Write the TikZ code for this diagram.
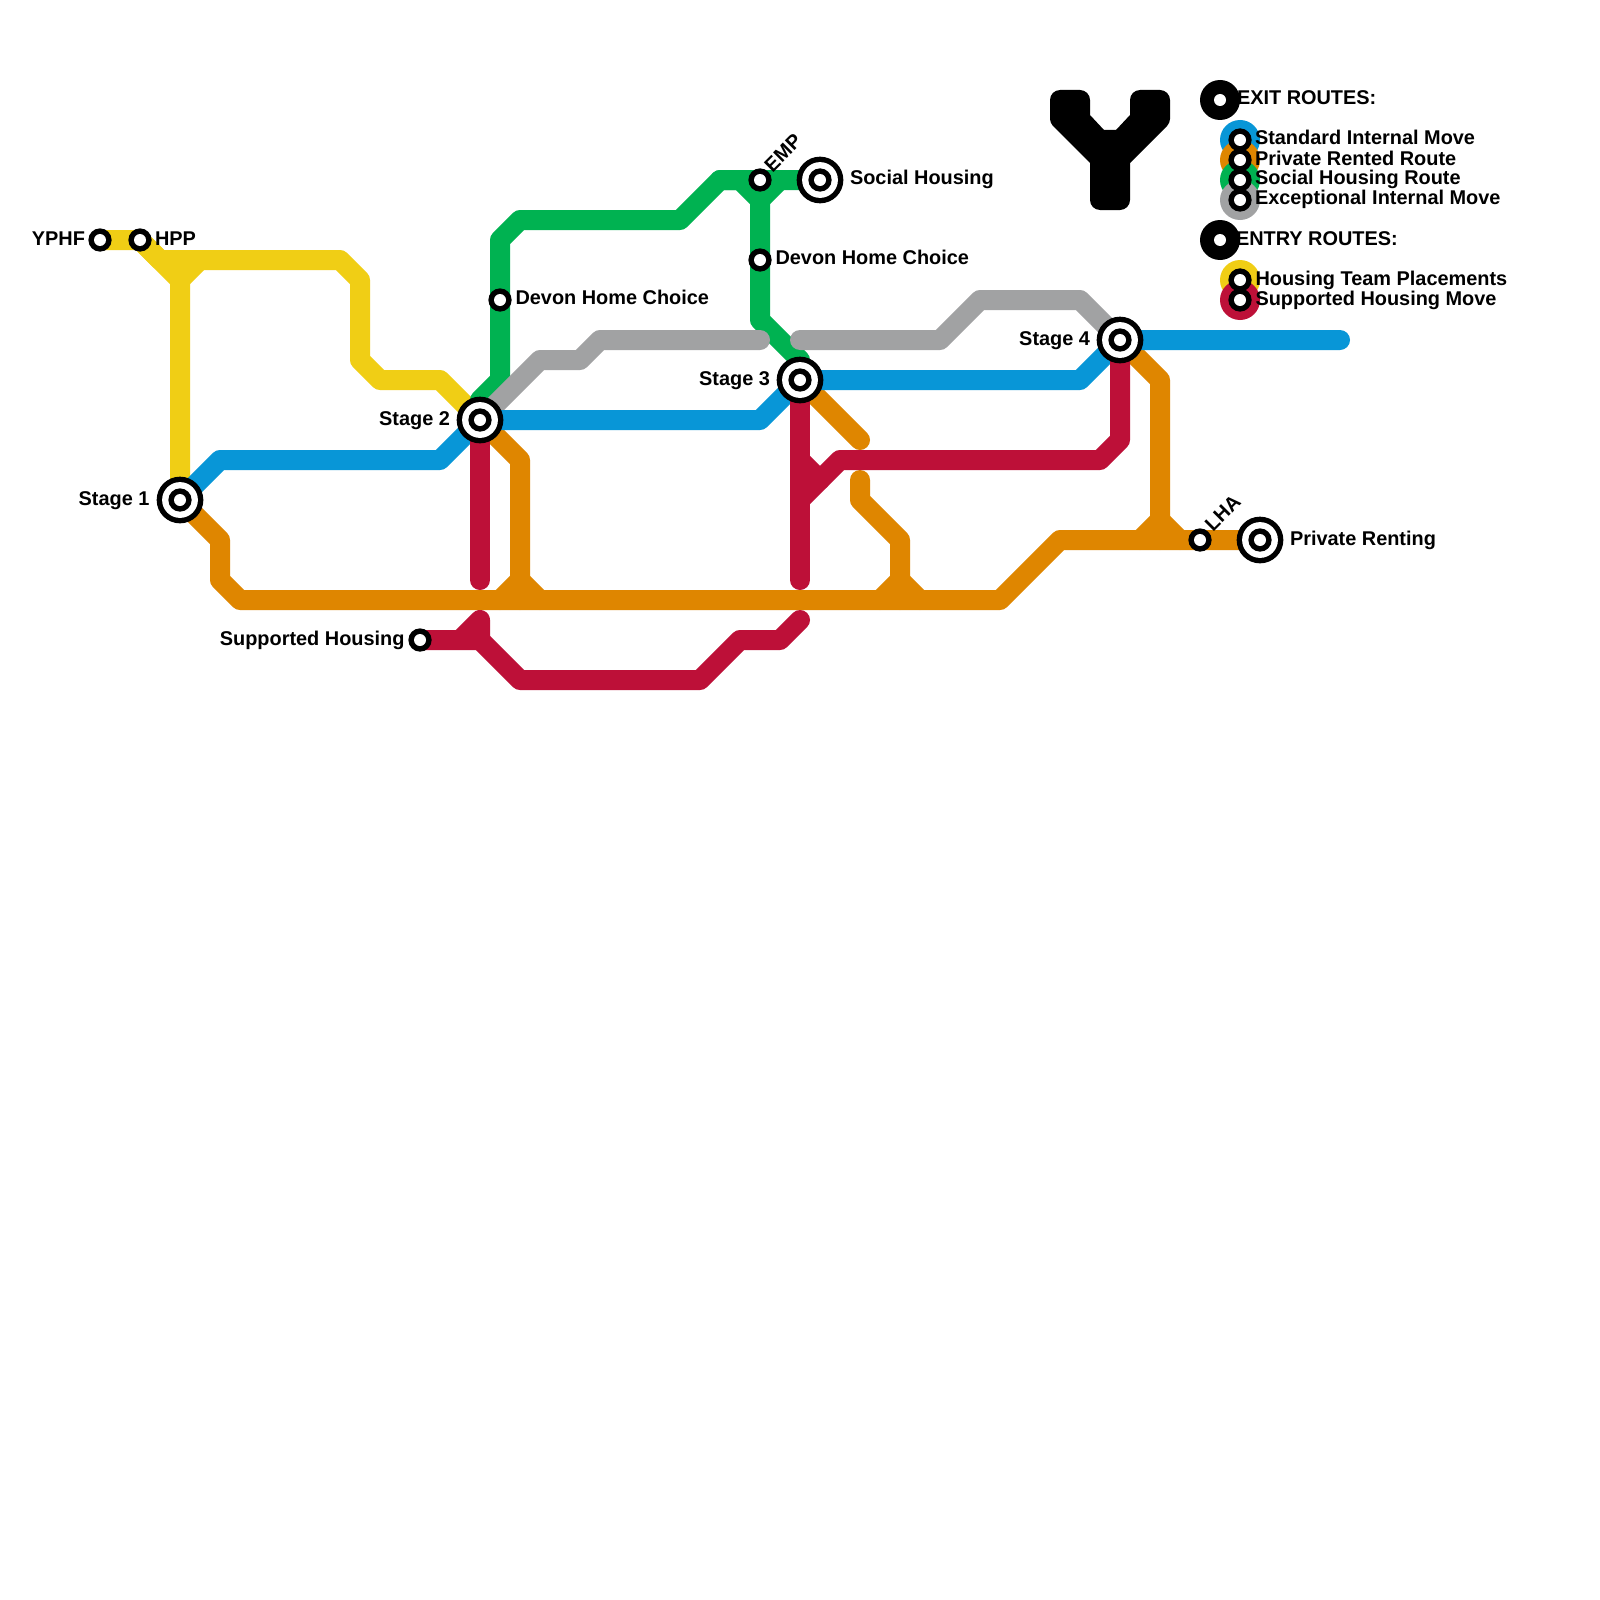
\documentclass[tikz,border=0pt]{standalone}
\usepackage{fontspec}
\setmainfont{Liberation Sans}
\pgfdeclarelayer{lines}
\pgfsetlayers{lines,main}
\definecolor{ruby}{HTML}{BD1038}
\definecolor{amber}{HTML}{DF8600}
\definecolor{sun}{HTML}{F0CE15}
\definecolor{leaf}{HTML}{00B251}
\definecolor{sky}{HTML}{0896D7}
\definecolor{silver}{HTML}{A1A2A3}
\newcommand{\hubstation}[3]{%
  \node[stop] (#1) at (#2,#3) {};
  \fill[black] (#1.center) circle (23.35pt);
  \fill[white] (#1.center) circle (17.9pt);
  \fill[black] (#1.center) circle (11.65pt);
  \fill[white] (#1.center) circle (6pt);}
\newcommand{\haltstation}[3]{%
  \node[stop] (#1) at (#2,#3) {};
  \fill[black] (#1.center) circle (11.65pt);
  \fill[white] (#1.center) circle (6pt);}
\newcommand{\headstation}[3]{%
  \node[stop] (#1) at (#2,#3) {};
  \fill[black] (#1.center) circle (20pt);
  \fill[white] (#1.center) circle (6pt);}
\tikzset{
  route/.style={line width=20pt,line cap=round,line join=round},
  stop/.style={circle,inner sep=0pt,outer sep=0pt,minimum size=2pt},
  swatch/.style={circle,fill=#1,minimum size=40pt,inner sep=0pt,outer sep=0pt},
  tag/.style={inner sep=0pt,outer sep=0pt,font=\bfseries\fontsize{19.9}{20}\selectfont,text=black},
  tagL/.style={tag,anchor=base west},
  tagR/.style={tag,anchor=base east},
  tagD/.style={tag,anchor=base west,rotate=45},
}
\begin{document}
\begin{tikzpicture}[x=1pt,y=-1pt]
\begin{pgfonlayer}{lines}
\fill[white] (0,0) rectangle (1600,1600);
\end{pgfonlayer}
\useasboundingbox (0,0) rectangle (1600,1600);

% stations
\hubstation{s1}{180}{500}
\hubstation{s2}{480}{420}
\hubstation{s3}{800}{380}
\hubstation{s4}{1120}{340}
\hubstation{social}{820}{180}
\hubstation{private}{1260}{540}
\haltstation{yphf}{100}{240}
\haltstation{hpp}{140}{240}
\haltstation{supp}{420}{640}
\haltstation{dhc1}{500}{300}
\haltstation{dhc2}{760}{260}
\haltstation{emp}{760}{180}
\haltstation{lha}{1200}{540}

% free line ends and junctions
\coordinate (yj) at (180,280);
\coordinate (sky-end) at (1340,340);
\coordinate (r2-end) at (480,580);
\coordinate (r3-end) at (800,580);
\coordinate (r-low) at (480,620);
\coordinate (r-low-end) at (800,620);
\coordinate (o3-end) at (860,440);
\coordinate (o3b) at (860,480);
\coordinate (g-end) at (760,340);
\coordinate (g-start) at (800,340);
\coordinate (gj) at (760,200);

\begin{pgfonlayer}{lines}
% yellow
\draw[route,sun] (yphf.center) -- (hpp.center) -- (yj) -- (s1.center);
\draw[route,sun] (hpp.center) -- (160,260) -- (340,260) -- (360,280) -- (360,360) -- (380,380) -- (440,380) -- (s2.center);
\draw[route,sun] (yj) -- (200,260);
% orange
\draw[route,amber] (s1.center) -- (220,540) -- (220,580) -- (240,600) -- (1000,600) -- (1060,540) -- (private.center);
\draw[route,amber] (s2.center) -- (520,460) -- (520,600);
\draw[route,amber] (500,600) -- (520,580) -- (540,600);
\draw[route,amber] (s3.center) -- (o3-end);
\draw[route,amber] (o3b) -- (860,500) -- (900,540) -- (900,600);
\draw[route,amber] (880,600) -- (900,580) -- (920,600);
\draw[route,amber] (s4.center) -- (1160,380) -- (1160,540);
\draw[route,amber] (1140,540) -- (1160,520) -- (1180,540);
% green
\draw[route,leaf] (s2.center) -- (480,400) -- (500,380) -- (dhc1.center) -- (500,240) -- (520,220) -- (680,220) -- (720,180) -- (emp.center) -- (social.center);
\draw[route,leaf] (720,180) -- (740,180) -- (gj) -- (dhc2.center) -- (760,320) -- (800,360) -- (s3.center);
\draw[route,leaf] (gj) -- (780,180);
% gray
\draw[route,silver] (s2.center) -- (540,360) -- (580,360) -- (600,340) -- (g-end);
\draw[route,silver] (g-start) -- (940,340) -- (980,300) -- (1080,300) -- (s4.center);
% blue
\draw[route,sky] (s1.center) -- (220,460) -- (440,460) -- (s2.center) -- (760,420) -- (s3.center) -- (1080,380) -- (s4.center) -- (sky-end);
% red
\draw[route,ruby] (s2.center) -- (r2-end);
\draw[route,ruby] (s3.center) -- (r3-end);
\draw[route,ruby] (800,500) -- (840,460) -- (1100,460) -- (1120,440) -- (s4.center);
\draw[route,ruby] (800,460) -- (820,480);
\draw[route,ruby] (supp.center) -- (480,640) -- (r-low) -- (460,640);
\draw[route,ruby] (480,640) -- (520,680) -- (700,680) -- (740,640) -- (780,640) -- (r-low-end);
\end{pgfonlayer}

% system logo
\fill[black] (1070,90) [rounded corners=10pt] -- (1090,90) [sharp corners] -- (1090,115) -- (1104,130) -- (1116,130) -- (1130,115) [rounded corners=10pt] -- (1130,90) -- (1170,90) [rounded corners=4pt] -- (1170,123) [sharp corners] -- (1130,163) [rounded corners=10pt] -- (1130,210) -- (1090,210) [sharp corners] -- (1090,163) [rounded corners=4pt] -- (1050,123) [rounded corners=10pt] -- (1050,90) -- cycle;

% legend
\node[swatch=sky] (k1) at (1240,140) {};
\node[swatch=amber] (k2) at (1240,160) {};
\node[swatch=leaf] (k3) at (1240,180) {};
\node[swatch=silver] (k4) at (1240,200) {};
\node[swatch=sun] (k5) at (1240,280) {};
\node[swatch=ruby] (k6) at (1240,300) {};
\haltstation{d1}{1240}{140}
\haltstation{d2}{1240}{160}
\haltstation{d3}{1240}{180}
\haltstation{d4}{1240}{200}
\haltstation{d5}{1240}{280}
\haltstation{d6}{1240}{300}
\headstation{hx}{1220}{100}
\headstation{hn}{1220}{240}

% labels
\node[tagR] (l1) at (149.5,505) {Stage 1};
\node[tagR] (l2) at (450,425) {Stage 2};
\node[tagR] (l3) at (770,385) {Stage 3};
\node[tagR] (l4) at (1090,345) {Stage 4};
\node[tagR] (l5) at (85,245) {YPHF};
\node[tagL] (l6) at (155,245) {HPP};
\node[tagR] (l7) at (404.5,645) {Supported Housing};
\node[tagL] (l8) at (515.5,304.5) {Devon Home Choice};
\node[tagL] (l9) at (775.5,264.5) {Devon Home Choice};
\node[tagL] (l10) at (850,184.5) {Social Housing};
\node[tagL] (l11) at (1290,545) {Private Renting};
\node[tagD] (l12) at (772.5,173) {EMP};
\node[tagD] (l13) at (1213,532.5) {LHA};
\node[tagL] (t1) at (1237,105) {EXIT ROUTES:};
\node[tagL] (t2) at (1255,145) {Standard Internal Move};
\node[tagL] (t3) at (1255,165) {Private Rented Route};
\node[tagL] (t4) at (1255,184.5) {Social Housing Route};
\node[tagL] (t5) at (1255,204.5) {Exceptional Internal Move};
\node[tagL] (t6) at (1236,245) {ENTRY ROUTES:};
\node[tagL] (t7) at (1255.5,285) {Housing Team Placements};
\node[tagL] (t8) at (1255.5,305) {Supported Housing Move};
\end{tikzpicture}
\end{document}
